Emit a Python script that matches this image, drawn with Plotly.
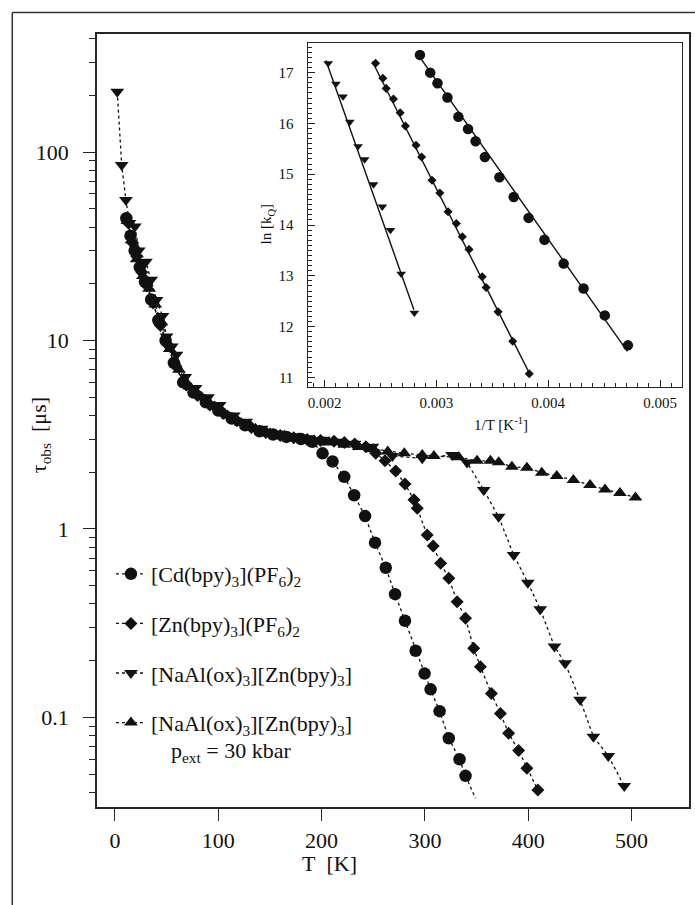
import plotly.graph_objects as go

# ---------------- main plot data: T [K], tau_obs [us] ----------------
cd_T = [11, 15, 19, 24, 29, 35, 42, 49, 57, 66, 76, 88, 100, 113, 126, 140, 153, 166, 180, 191,
        200.9, 210.6, 221.9, 231.5, 242.1, 251.7, 262.1, 271.1, 280.7, 291.0, 299.7, 305.5, 314.2,
        323.1, 333.5, 339.3]
cd_tau = [44.5, 36, 30, 24.5, 20.5, 16.5, 12.8, 10.0, 7.6, 6.0, 5.3, 4.7, 4.25, 3.85, 3.55, 3.3, 3.17,
          3.08, 3.0, 2.9, 2.52, 2.28, 1.89, 1.51, 1.17, 0.846, 0.623, 0.451, 0.326, 0.226, 0.171,
          0.141, 0.108, 0.0776, 0.060, 0.049]
cd_fit_T = [339.3, 348.9]
cd_fit_tau = [0.049, 0.0373]

zn_T = [13, 17, 21, 26, 31, 37, 44, 51, 59, 69, 80, 92, 105, 118, 132, 146, 160, 173, 186, 199,
        212, 222, 232, 242.8, 252.4, 261.4, 271.7, 280.7, 289.4, 292.6, 302.2, 308.0, 315.2, 323.1,
        331.2, 339.3, 347.2, 353.7, 364.3, 373.0, 381.0, 390.7, 398.7, 409.3]
zn_tau = [42, 33, 28, 23, 19.5, 15.8, 12, 9.5, 7.3, 5.8, 5.1, 4.55, 4.1, 3.75, 3.45, 3.25, 3.13, 3.05,
          2.98, 2.95, 2.92, 2.88, 2.82, 2.73, 2.52, 2.30, 2.03, 1.73, 1.43, 1.29, 0.929, 0.813, 0.658,
          0.547, 0.411, 0.336, 0.233, 0.186, 0.134, 0.105, 0.0824, 0.0667, 0.0538, 0.0412]

na_T = [2.2, 6.5, 10.6, 14, 19.3, 23, 29.9, 35, 40.2, 46, 49.9, 55, 59.5, 68, 78, 90, 101.3, 115,
        127, 142, 157, 172, 187, 202, 217, 232, 249.2, 268.5, 297.4, 326.3, 340.8, 356.9, 371.4,
        385.9, 399.6, 411.6, 425.4, 435.7, 450.2, 463.1, 477.5, 492.9]
na_tau = [209, 85.3, 55.6, 42, 40.2, 30, 26.2, 21, 16.4, 13.5, 10.5, 9.3, 8.4, 6.4, 5.6, 5.0, 4.55,
          4.0, 3.71, 3.4, 3.2, 3.1, 3.03, 2.97, 2.9, 2.83, 2.73, 2.44, 2.37, 2.47, 2.25, 1.61, 1.16,
          0.728, 0.519, 0.375, 0.238, 0.194, 0.124, 0.0791, 0.0625, 0.0433]

nap_T = [12, 16, 21, 27, 33, 39, 45, 53, 62, 72, 84, 96, 109, 122, 136, 150, 164, 178, 193, 207,
         222, 236, 250, 264, 280, 297.4, 308.7, 332.8, 350.4, 363.4, 371.4, 384.2, 398.7, 413.1,
         427.6, 443.7, 459.8, 474.3, 488.8, 503.8]
nap_tau = [43, 34, 27, 22, 18.8, 15.5, 12.5, 9.0, 7.0, 5.7, 5.0, 4.45, 4.0, 3.65, 3.4, 3.22, 3.12,
           3.03, 2.95, 2.88, 2.8, 2.72, 2.65, 2.58, 2.52, 2.47, 2.44, 2.40, 2.30, 2.30, 2.26, 2.14,
           2.11, 1.99, 1.91, 1.82, 1.71, 1.62, 1.55, 1.47]

# ---------------- inset data: 1/T [1/K], ln(kQ) ----------------
in_cd_x = [0.002852, 0.002944, 0.003009, 0.003098, 0.003196, 0.003282, 0.00335, 0.003433, 0.003563,
           0.003691, 0.003824, 0.003966, 0.004138, 0.004316, 0.004506, 0.004713]
in_cd_y = [17.35, 17.0, 16.79, 16.51, 16.13, 15.89, 15.65, 15.34, 14.94, 14.55, 14.14, 13.71, 13.24,
           12.75, 12.22, 11.63]
in_zn_x = [0.002455, 0.00252, 0.00255, 0.002615, 0.002675, 0.002722, 0.002817, 0.002867, 0.00296,
           0.00303, 0.003104, 0.003178, 0.003231, 0.003291, 0.003409, 0.003444, 0.003551, 0.003682,
           0.00383]
in_zn_y = [17.185, 16.89, 16.69, 16.48, 16.21, 15.95, 15.57, 15.34, 14.88, 14.63, 14.26, 14.03, 13.77,
           13.52, 12.98, 12.77, 12.29, 11.71, 11.07]
in_na_x = [0.002031, 0.0021, 0.002164, 0.002224, 0.002298, 0.002357, 0.002437, 0.002515, 0.002588,
           0.002684, 0.002802]
in_na_y = [17.185, 16.78, 16.53, 16.03, 15.55, 15.29, 14.80, 14.36, 13.90, 13.04, 12.27]
# linear fits (end points)
fit_cd_x = [0.002827, 0.004708]
fit_cd_y = [17.38, 11.51]
fit_zn_x = [0.002426, 0.003838]
fit_zn_y = [17.22, 11.05]
fit_na_x = [0.002011, 0.002798]
fit_na_y = [17.24, 12.33]

main_xticks = [0, 100, 200, 300, 400, 500]
main_yticks = [0.1, 1, 10, 100]
main_yticklabels = ["0.1", "1", "10", "100"]
minor_y = [0.04, 0.05, 0.06, 0.07, 0.08, 0.09, 0.2, 0.3, 0.4, 0.5, 0.6, 0.7, 0.8, 0.9,
           2, 3, 4, 5, 6, 7, 8, 9, 20, 30, 40, 50, 60, 70, 80, 90, 200, 300, 400]

names = ["[Cd(bpy)<sub>3</sub>](PF<sub>6</sub>)<sub>2</sub>",
         "[Zn(bpy)<sub>3</sub>](PF<sub>6</sub>)<sub>2</sub>",
         "[NaAl(ox)<sub>3</sub>][Zn(bpy)<sub>3</sub>]",
         "[NaAl(ox)<sub>3</sub>][Zn(bpy)<sub>3</sub>]"]
pressure_note = "p<sub>ext</sub> = 30 kbar"

FONT = "Liberation Serif, Times New Roman, serif"
INK = "#111111"
AX = "#262626"

W, H = 695, 905
L, R, T, B = 97, 4, 34, 98
PW, PH = W - L - R, H - T - B


def px(x):
    return (x - L) / PW


def py(y):
    return (H - B - y) / PH


fig = go.Figure()
dot = dict(color=INK, width=1.3, dash="3px,3px")


def add_main(xs, ys, name, symbol, size, group, show=True):
    fig.add_trace(go.Scatter(
        x=xs, y=ys, mode="lines+markers", name=name, legendgroup=group, showlegend=show,
        line=dot, marker=dict(symbol=symbol, size=size, color=INK, line=dict(width=0)),
        xaxis="x", yaxis="y"))


add_main(cd_T, cd_tau, names[0], "circle", 12.5, "g1")
add_main(zn_T, zn_tau, names[1], "diamond", 10, "g2")
add_main(na_T, na_tau, names[2], "triangle-down", 12, "g3")
add_main(nap_T, nap_tau, names[3], "triangle-up", 12, "g4")
fig.add_trace(go.Scatter(x=cd_fit_T, y=cd_fit_tau, mode="lines", line=dot, showlegend=False,
                         legendgroup="g1", xaxis="x", yaxis="y"))

for fx, fy in [(fit_cd_x, fit_cd_y), (fit_zn_x, fit_zn_y), (fit_na_x, fit_na_y)]:
    fig.add_trace(go.Scatter(x=fx, y=fy, mode="lines", line=dict(color=INK, width=1.4),
                             showlegend=False, xaxis="x2", yaxis="y2"))
for xs, ys, sym, sz in [(in_cd_x, in_cd_y, "circle", 10.5), (in_zn_x, in_zn_y, "diamond", 7),
                        (in_na_x, in_na_y, "triangle-down", 8.5)]:
    fig.add_trace(go.Scatter(x=xs, y=ys, mode="markers", showlegend=False,
                             marker=dict(symbol=sym, size=sz, color=INK, line=dict(width=0)),
                             xaxis="x2", yaxis="y2"))

fig.update_layout(
    width=W, height=H, autosize=False,
    margin=dict(l=L, r=R, t=T, b=B, pad=0),
    paper_bgcolor="white", plot_bgcolor="white",
    font=dict(family=FONT, size=22, color=INK),
    showlegend=True,
    legend=dict(x=px(111), y=py(553), xanchor="left", yanchor="top",
                traceorder="grouped", tracegroupgap=18, valign="top",
                bgcolor="rgba(0,0,0,0)", font=dict(family=FONT, size=22, color=INK),
                itemwidth=30),
    xaxis=dict(domain=[0, 1], range=[-17.4, 555.6], tickvals=main_xticks, ticks="outside",
               ticklen=12, tickwidth=1.3, tickcolor=AX, showline=True, linecolor=AX, linewidth=1.5,
               mirror=True, showgrid=False, zeroline=False, ticklabelstandoff=1,
               tickfont=dict(family=FONT, size=22)),
    yaxis=dict(domain=[0, 1], type="log", range=[-1.475, 2.626], tickvals=main_yticks,
               ticktext=main_yticklabels, ticks="outside", ticklen=12, tickwidth=1.3, tickcolor=AX,
               showline=True, linecolor=AX, linewidth=1.5, mirror=True, showgrid=False,
               zeroline=False, ticklabelstandoff=10, tickfont=dict(family=FONT, size=22),
               minor=dict(tickvals=minor_y, ticks="outside", ticklen=6, tickwidth=1.2,
                          tickcolor=AX, showgrid=False)),
    xaxis2=dict(domain=[px(308.3), px(684)], anchor="y2", range=[0.0018467, 0.005197],
                tick0=0.002, dtick=0.001, tickformat=".3f", ticks="inside", ticklen=7,
                tickwidth=1.2, tickcolor=AX, showline=True, linecolor=AX, linewidth=1.4,
                mirror=True, showgrid=False, zeroline=False, tickfont=dict(family=FONT, size=15),
                ticklabelstandoff=2,
                minor=dict(dtick=0.0001, ticks="inside", ticklen=4, tickwidth=1, tickcolor=AX,
                           showgrid=False)),
    yaxis2=dict(domain=[py(387), py(42.7)], anchor="x2", range=[10.81, 17.59], tick0=11, dtick=1,
                ticks="inside", ticklen=7, tickwidth=1.2, tickcolor=AX, showline=True,
                linecolor=AX, linewidth=1.4, mirror=True, showgrid=False, zeroline=False,
                tickfont=dict(family=FONT, size=15), ticklabelstandoff=10,
                minor=dict(dtick=0.1, ticks="inside", ticklen=4, tickwidth=1, tickcolor=AX,
                           showgrid=False)),
)

ann = [
    dict(text="\u03c4<sub>obs</sub>\u00a0\u00a0[\u03bcs]", x=px(40), y=py(435), textangle=-90,
         font=dict(family=FONT, size=22, color=INK)),
    dict(text="T\u00a0\u00a0[K]", x=px(330), y=py(863), font=dict(family=FONT, size=22, color=INK)),
    dict(text="ln [k<sub>Q</sub>]", x=px(268), y=py(224), textangle=-90,
         font=dict(family=FONT, size=15, color=INK)),
    dict(text="1/T [K<sup>-1</sup>]", x=px(502), y=py(424), font=dict(family=FONT, size=15, color=INK)),
]
for a in ann:
    a.update(xanchor="center")
ann.append(dict(text=pressure_note, x=px(169), y=py(752), xanchor="left",
                font=dict(family=FONT, size=22, color=INK)))
for a in ann:
    a.update(xref="paper", yref="paper", showarrow=False, yanchor="middle")
fig.update_layout(annotations=ann)

fig.add_shape(type="line", xref="paper", yref="paper", x0=px(12), x1=px(697), y0=py(12.5), y1=py(12.5),
              line=dict(color="#333333", width=1.5))
fig.add_shape(type="line", xref="paper", yref="paper", x0=px(12), x1=px(12), y0=py(12.5), y1=py(910),
              line=dict(color="#333333", width=1.5))

fig.write_html("out.html", config={"displayModeBar": False},
               post_script="document.body.style.margin='0';document.body.style.overflow='hidden';")
